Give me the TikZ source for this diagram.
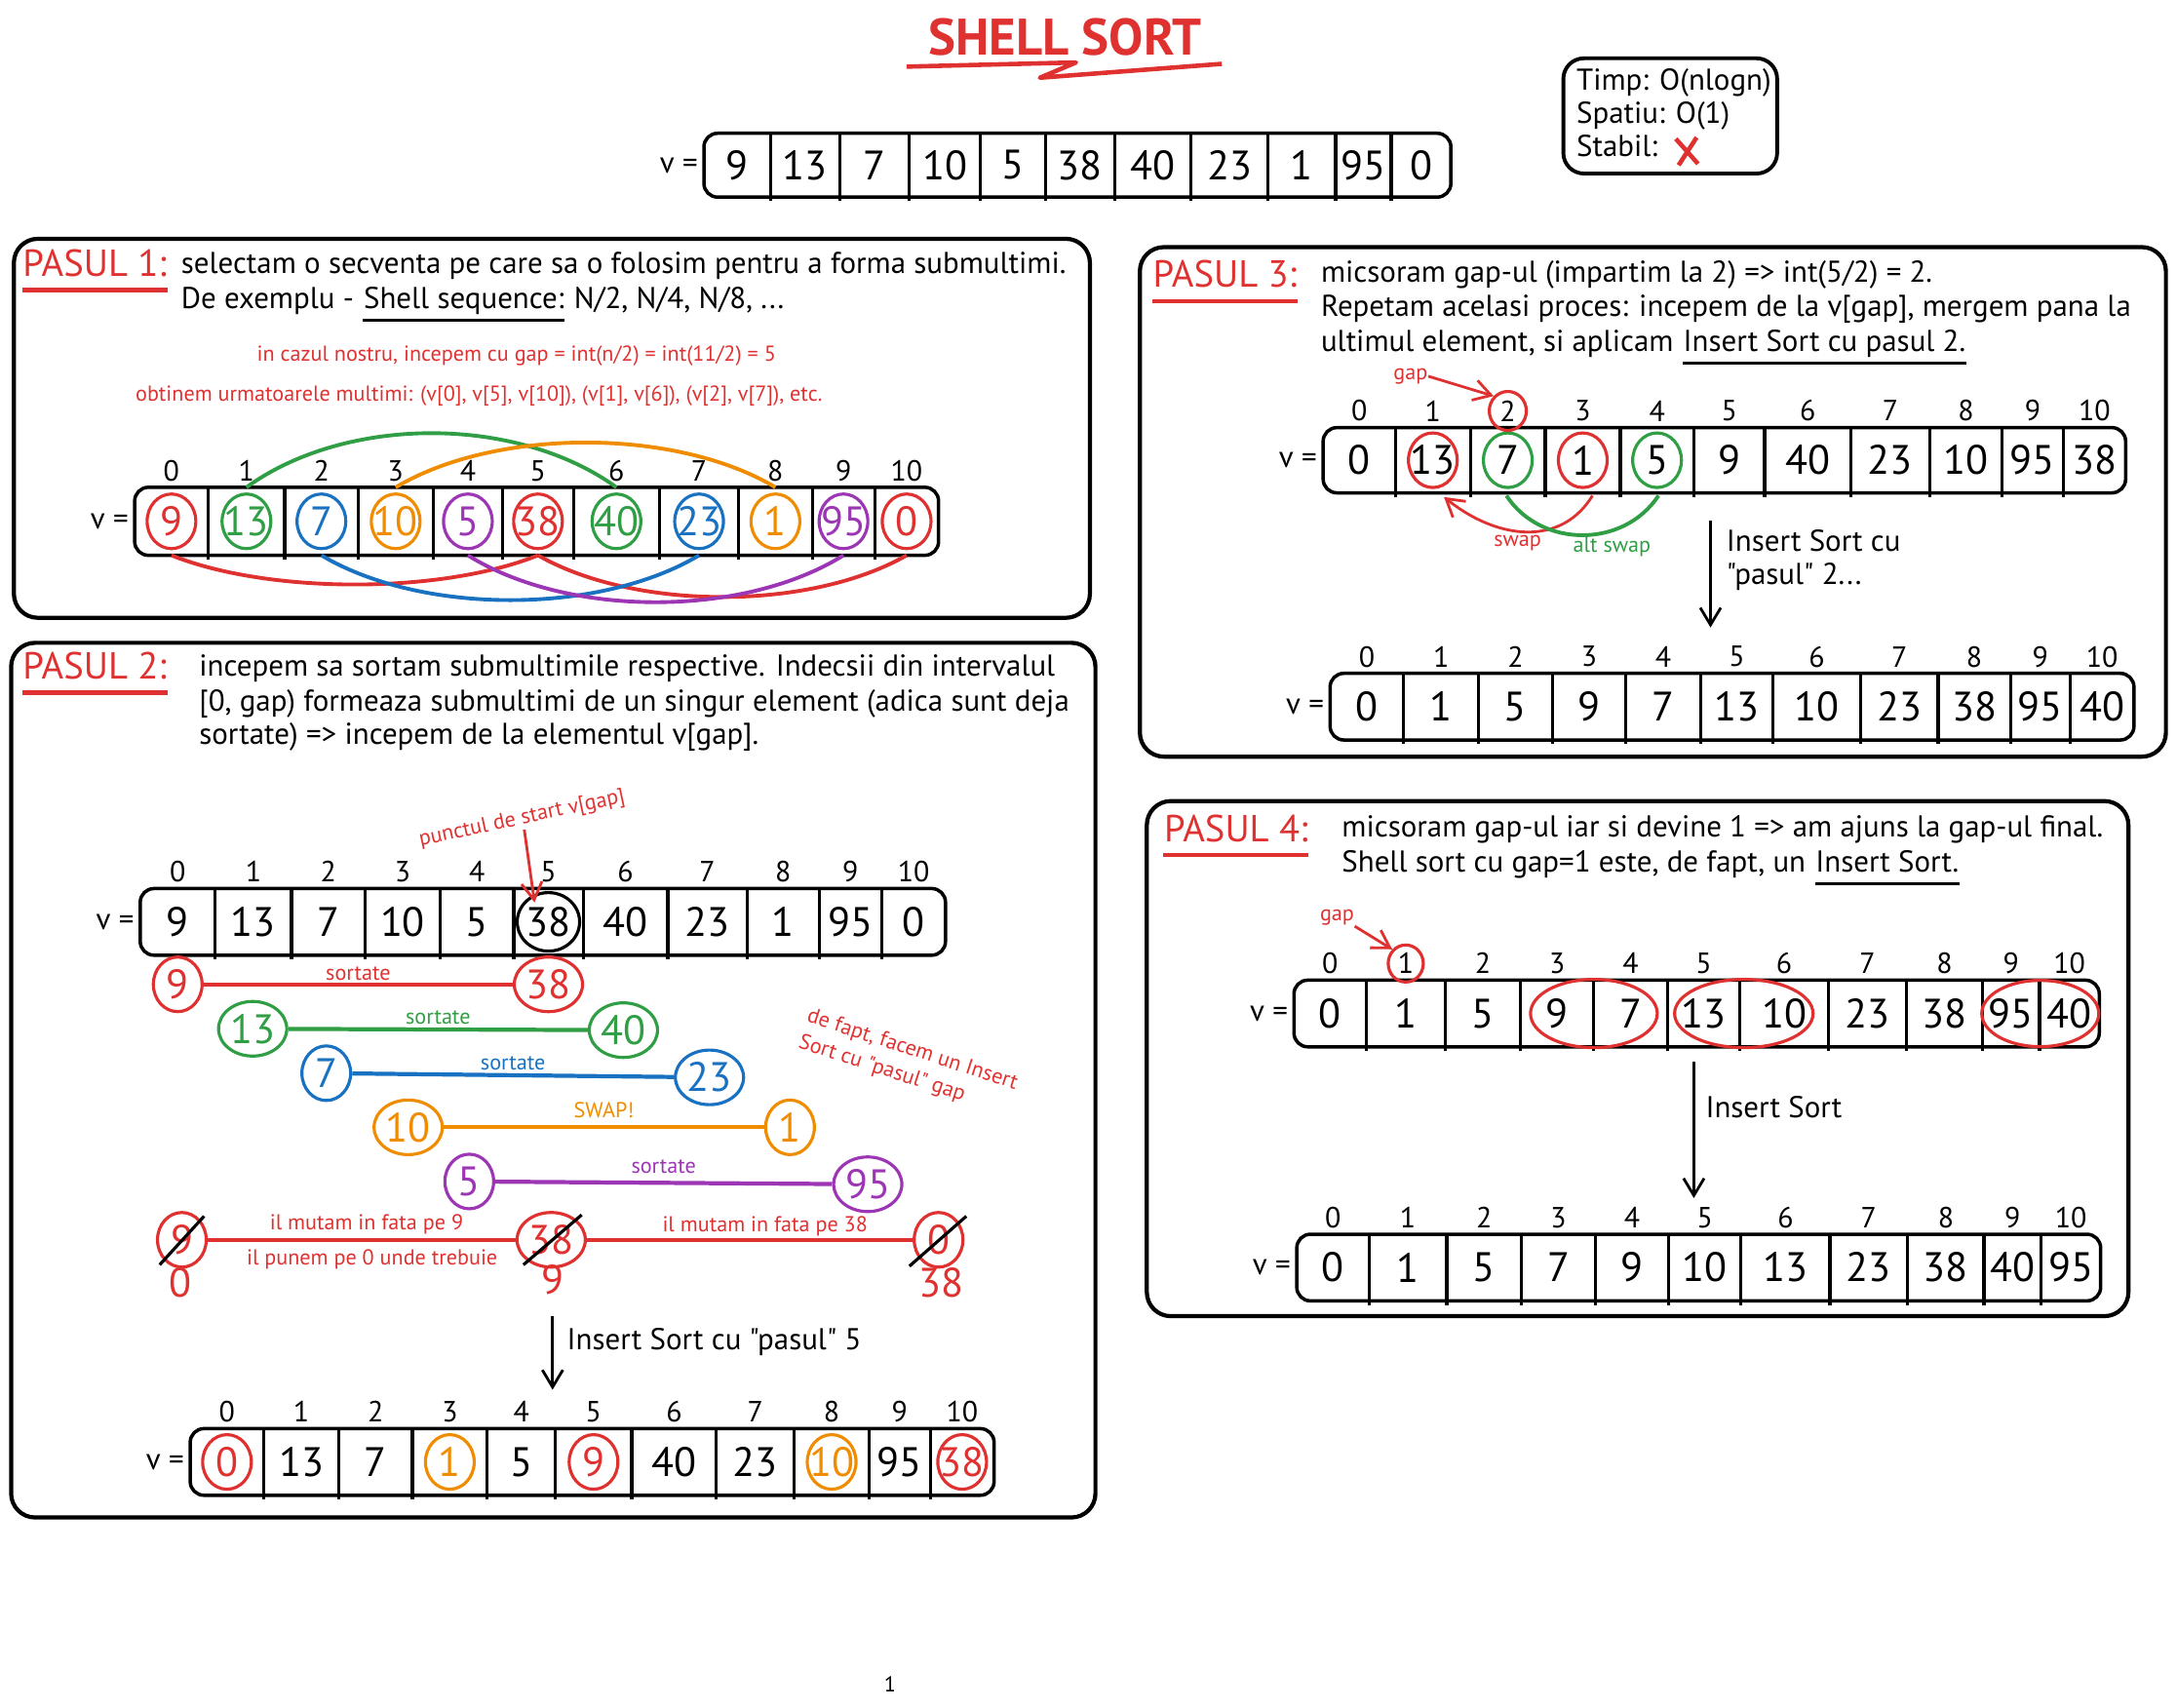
\documentclass[tikz,border=0pt]{standalone}
\usepackage{fontspec}
\setmainfont{PT Sans}[Ligatures=TeXOff]
\usetikzlibrary{shapes.geometric,arrows.meta,calc}
\definecolor{cr}{HTML}{E03131}
\definecolor{cg}{HTML}{2F9E44}
\definecolor{cb}{HTML}{1971C2}
\definecolor{co}{HTML}{F08C00}
\definecolor{cp}{HTML}{9C36B5}
\colorlet{ck}{black}
\newcommand\dq{\symbol{34}}
\newcommand\valfont{\fontsize{12}{13}\selectfont}
\newcommand\txtfont{\fontsize{8.8}{10}\selectfont}
\newcommand\smfont{\fontsize{6.3}{8}\selectfont}
\newcommand\idxfont{\fontsize{8.5}{9}\selectfont}
\newcommand\pasfont{\fontsize{11}{12}\selectfont}
% #1 prefix, #2 top y, #3 bottom y, #4 12 bounds, #5 11 value/colour pairs
\newcommand\vecarr[5]{%
  \def\bnd{#4}%
  \pgfmathsetmacro\xl{{\bnd}[0]}%
  \pgfmathsetmacro\xr{{\bnd}[11]}%
  \pgfmathsetmacro\ym{(#2+#3)/2}%
  \draw[arrbox] (\xl,#2) rectangle (\xr,#3);
  \foreach \kk in {1,...,10}{\pgfmathsetmacro\xd{{\bnd}[\kk]}\draw[divl] (\xd,#2-1) -- (\xd,#3+3);}
  \node[eqtxt, anchor=east] (#1eq) at (\xl-4,\ym) {v =};
  \foreach \vv/\cc [count=\kk from 0] in {#5}{%
    \pgfmathsetmacro\xa{{\bnd}[\kk]}\pgfmathsetmacro\xb{{\bnd}[\kk+1]}%
    \pgfmathsetmacro\xc{(\xa+\xb)/2}%
    \node[val, text=\cc] (#1v\kk) at (\xc,\ym) {\vv};
    \coordinate (#1t\kk) at (\xc,#2);
    \coordinate (#1b\kk) at (\xc,#3);
  }%
}
% #1 prefix, #2 top y, #3 bounds
\newcommand\idxrow[3]{%
  \def\bnd{#3}%
  \foreach \kk in {0,...,10}{%
    \pgfmathsetmacro\xa{{\bnd}[\kk]}\pgfmathsetmacro\xb{{\bnd}[\kk+1]}%
    \node[idx] (#1i\kk) at ({(\xa+\xb)/2},#2-12) {\kk};
  }%
}
\begin{document}
\begin{tikzpicture}[x=0.014241cm,y=-0.014241cm,
  panel/.style={draw, line width=1.2pt, rounded corners=7pt},
  arrbox/.style={draw, line width=1pt, rounded corners=4pt},
  divl/.style={line width=0.9pt},
  val/.style={font=\valfont, inner sep=0pt},
  idx/.style={font=\idxfont, inner sep=0pt},
  eqtxt/.style={font=\txtfont, inner sep=0pt},
  txt/.style={font=\txtfont, inner sep=0pt, anchor=base west},
  sm/.style={font=\smfont, inner sep=0pt},
  pas/.style={font=\pasfont, text=cr, inner sep=0pt, anchor=base west},
  ring/.style={draw=#1, ellipse, line width=0.9pt, minimum width=0.5cm, minimum height=0.56cm, inner sep=0pt},
  cnode/.style={draw=#1, text=#1, ellipse, line width=0.9pt, minimum width=0.5cm, minimum height=0.56cm, inner sep=0.5pt, font=\valfont},
  link/.style={line width=1.2pt},
  arc/.style={line width=1.1pt},
  arr/.style={-{Straight Barb[length=5pt,width=6pt]}, line width=0.8pt},
  uline/.style={line width=0.9pt},
  rline/.style={cr, line width=1.2pt}
]
\useasboundingbox (0,0) rectangle (1568,1230);

% ---------- title ----------
\node[font=\fontsize{15}{16}\selectfont\bfseries, text=cr, inner sep=0pt] (title) at (767,27) {SHELL SORT};
\draw[cr, line width=1.3pt, line join=round] (653,48) -- (775,45) -- (749,56) -- (880,46);

% ---------- top array ----------
\vecarr{a0}{96}{142}{507,555,605,655,706,753,803,858,913,962,1002,1045}{9/ck,13/ck,7/ck,10/ck,5/ck,38/ck,40/ck,23/ck,1/ck,95/ck,0/ck}

% ---------- complexity box ----------
\draw[line width=1.1pt, rounded corners=6pt] (1126,42) rectangle (1280,125);
\node[txt] (cx1) at (1135,65) {Timp: O(nlogn)};
\node[txt] (cx2) at (1135,89) {Spatiu: O(1)};
\node[txt] (cx3) at (1135,113) {Stabil:};
\draw[cr, line width=1.3pt] (1207,100) -- (1223,118) (1222,99) -- (1209,119);

% ---------- PASUL 1 ----------
\draw[panel] (10,172) rectangle (785,445);
\node[pas] (pa1) at (16,199) {PASUL 1:};
\draw[rline] ([yshift=-4pt]pa1.base west) -- ([yshift=-4pt]pa1.base east);
\node[txt] (p1l1) at (130,197) {selectam o secventa pe care sa o folosim pentru a forma submultimi.};
\node[txt] (p1l2a) at (130,222) {De exemplu -};
\node[txt] (p1l2b) at ([xshift=2.5pt]p1l2a.base east) {Shell sequence:};
\node[txt] (p1l2c) at ([xshift=2.5pt]p1l2b.base east) {N/2, N/4, N/8, ...};
\draw[uline] ([yshift=-3.5pt]p1l2b.base west) -- ([yshift=-3.5pt]p1l2b.base east);
\node[sm, text=cr, anchor=base] (p1r1) at (372,260) {in cazul nostru, incepem cu gap = int(n/2) = int(11/2) = 5};
\node[sm, text=cr, anchor=base] (p1r2) at (345,289) {obtinem urmatoarele multimi: (v[0], v[5], v[10]), (v[1], v[6]), (v[2], v[7]), etc.};
\idxrow{p1}{351}{97,150,205,258,312,362,413,475,532,585,630,676}
\vecarr{p1}{351}{400}{97,150,205,258,312,362,413,475,532,585,630,676}{9/cr,13/cg,7/cb,10/co,5/cp,38/cr,40/cg,23/cb,1/co,95/cp,0/cr}
\foreach \kk/\cc in {0/cr,1/cg,2/cb,3/co,4/cp,5/cr,6/cg,7/cb,8/co,9/cp,10/cr}
  \node[ring=\cc] (p1r\kk) at (p1v\kk) {};
\draw[arc, cg] (p1t1) .. controls +(72,-52) and +(-72,-52) .. (p1t6);
\draw[arc, co] (p1t3) .. controls +(72,-43) and +(-72,-43) .. (p1t8);
\draw[arc, cr] (p1b0) .. controls +(70,28) and +(-70,28) .. (p1b5);
\draw[arc, cr] (p1b5) .. controls +(70,40) and +(-70,40) .. (p1b10);
\draw[arc, cb] (p1b2) .. controls +(72,43) and +(-72,43) .. (p1b7);
\draw[arc, cp] (p1b4) .. controls +(72,45) and +(-72,45) .. (p1b9);

% ---------- PASUL 2 ----------
\draw[panel] (8,463) rectangle (789,1093);
\node[pas] (pa2) at (16,489) {PASUL 2:};
\draw[rline] ([yshift=-4pt]pa2.base west) -- ([yshift=-4pt]pa2.base east);
\node[txt] (p2l1) at (143,487) {incepem sa sortam submultimile respective. Indecsii din intervalul};
\node[txt] (p2l2) at (143,512) {[0, gap) formeaza submultimi de un singur element (adica sunt deja};
\node[txt] (p2l3) at (143,536) {sortate) => incepem de la elementul v[gap].};
\node[sm, text=cr, rotate=12] (pstart) at (376,590) {punctul de start v[gap]};
\idxrow{p2a}{640}{101,155,210,263,317,370,420,481,538,590,635,681}
\vecarr{p2a}{640}{688}{101,155,210,263,317,370,420,481,538,590,635,681}{9/ck,13/ck,7/ck,10/ck,5/ck,38/ck,40/ck,23/ck,1/ck,95/ck,0/ck}
\node[ring=black, minimum width=0.64cm, minimum height=0.6cm] (p2ring) at (p2av5) {};
\coordinate (pstip) at (385,650);
\draw[arr, cr] (pstart.south) -- (pstip);

\node[cnode=cr] (s1a) at (128,709) {9};
\node[cnode=cr] (s1b) at (395,709) {38};
\draw[link, cr] (s1a) -- (s1b) node[midway, above=0.5pt, sm, text=cr] {sortate};
\node[cnode=cg] (s2a) at (182,741) {13};
\node[cnode=cg] (s2b) at (449,742) {40};
\draw[link, cg] (s2a) -- (s2b) node[midway, above=1pt, sm, text=cg] {sortate};
\node[cnode=cb] (s3a) at (235,773) {7};
\node[cnode=cb] (s3b) at (511,776) {23};
\draw[link, cb] (s3a) -- (s3b) node[midway, above=1pt, sm, text=cb] {sortate};
\node[cnode=co] (s4a) at (294,812) {10};
\node[cnode=co] (s4b) at (569,812) {1};
\draw[link, co] (s4a) -- (s4b) node[midway, above=2pt, sm, text=co] {SWAP!};
\node[cnode=cp] (s5a) at (338,851) {5};
\node[cnode=cp] (s5b) at (625,853) {95};
\draw[link, cp] (s5a) -- (s5b) node[midway, above=2pt, sm, text=cp] {sortate};
\node[cnode=cr] (s6a) at (131,893) {9};
\node[cnode=cr] (s6b) at (397,893) {38};
\node[cnode=cr] (s6c) at (676,893) {0};
\draw[link, cr] (s6a) -- (s6b);
\draw[link, cr] (s6b) -- (s6c);
\node[sm, text=cr] (m1) at (264,882) {il mutam in fata pe 9};
\node[sm, text=cr] (m2) at (268,907) {il punem pe 0 unde trebuie};
\node[sm, text=cr] (m3) at (551,883) {il mutam in fata pe 38};
\draw[line width=0.9pt] ($(s6a)+(-16,18)$) -- ($(s6a)+(16,-17)$);
\draw[line width=0.9pt] ($(s6b)+(-20,18)$) -- ($(s6b)+(22,-18)$);
\draw[line width=0.9pt] ($(s6c)+(-21,19)$) -- ($(s6c)+(20,-17)$);
\node[val, text=cr] (u1) at (130,924) {0};
\node[val, text=cr] (u2) at (398,922) {9};
\node[val, text=cr] (u3) at (678,924) {38};
\node[sm, text=cr, rotate=-18, align=left] (defapt) at (654,766) {de fapt, facem un Insert\\Sort cu \dq pasul\dq\ gap};
\coordinate (p2from) at (398,948);
\coordinate (p2to) at (398,1001);
\draw[arr] (p2from) -- (p2to);
\node[txt] (p2ins) at (408,972) {Insert Sort cu \dq pasul\dq\ 5};
\idxrow{p2b}{1029}{137,190,244,297,351,400,455,516,572,626,670,716}
\vecarr{p2b}{1029}{1077}{137,190,244,297,351,400,455,516,572,626,670,716}{0/cr,13/ck,7/ck,1/co,5/ck,9/cr,40/ck,23/ck,10/co,95/ck,38/cr}
\foreach \kk/\cc in {0/cr,3/co,5/cr,8/co,10/cr}
  \node[ring=\cc] (p2br\kk) at (p2bv\kk) {};

% ---------- PASUL 3 ----------
\draw[panel] (821,178) rectangle (1560,545);
\node[pas] (pa3) at (830,207) {PASUL 3:};
\draw[rline] ([yshift=-4pt]pa3.base west) -- ([yshift=-4pt]pa3.base east);
\node[txt] (p3l1) at (951,203) {micsoram gap-ul (impartim la 2) => int(5/2) = 2.};
\node[txt] (p3l2) at (951,228) {Repetam acelasi proces: incepem de la v[gap], mergem pana la};
\node[txt] (p3l3a) at (951,253) {ultimul element, si aplicam};
\node[txt] (p3l3b) at ([xshift=2.5pt]p3l3a.base east) {Insert Sort cu pasul 2.};
\draw[uline] ([yshift=-3.5pt]p3l3b.base west) -- ([yshift=-3.5pt]p3l3b.base east);
\idxrow{p3a}{308}{953,1005,1059,1113,1167,1220,1271,1333,1390,1442,1486,1531}
\vecarr{p3a}{308}{355}{953,1005,1059,1113,1167,1220,1271,1333,1390,1442,1486,1531}{0/ck,13/ck,7/ck,1/ck,5/ck,9/ck,40/ck,23/ck,10/ck,95/ck,38/ck}
\foreach \kk/\cc in {1/cr,2/cg,3/cr,4/cg}
  \node[ring=\cc] (p3r\kk) at (p3av\kk) {};
\node[ring=cr, minimum width=0.38cm, minimum height=0.4cm] (p3ring) at (p3ai2) {};
\node[sm, text=cr] (gap3) at (1016,271) {gap};
\draw[arr, cr] (gap3.east) -- (p3ring.north west);
\draw[arr, cr] ($(p3ab3)+(7,2)$) .. controls +(-22,36) and +(40,32) .. ($(p3ab1)+(8,3)$);
\draw[arc, cg] ($(p3ab2)+(-1,2)$) .. controls +(25,38) and +(-25,38) .. ($(p3ab4)+(1,2)$);
\node[sm, text=cr] (swp) at (1093,391) {swap};
\node[sm, text=cg] (aswp) at (1161,394) {alt swap};
\coordinate (p3from) at (1232,375);
\coordinate (p3to) at (1232,452);
\draw[arr] (p3from) -- (p3to);
\node[txt] (p3ins1) at (1243,397) {Insert Sort cu};
\node[txt] (p3ins2) at (1243,421) {\dq pasul\dq\ 2...};
\idxrow{p3b}{485}{958,1011,1065,1118,1171,1225,1277,1340,1396,1448,1491,1537}
\vecarr{p3b}{485}{533}{958,1011,1065,1118,1171,1225,1277,1340,1396,1448,1491,1537}{0/ck,1/ck,5/ck,9/ck,7/ck,13/ck,10/ck,23/ck,38/ck,95/ck,40/ck}

% ---------- PASUL 4 ----------
\draw[panel] (826,577) rectangle (1533,948);
\node[pas] (pa4) at (838,606) {PASUL 4:};
\draw[rline] ([yshift=-4pt]pa4.base west) -- ([yshift=-4pt]pa4.base east);
\node[txt] (p4l1) at (966,603) {micsoram gap-ul iar si devine 1 => am ajuns la gap-ul final.};
\node[txt] (p4l2a) at (966,628) {Shell sort cu gap=1 este, de fapt, un};
\node[txt] (p4l2b) at ([xshift=2.5pt]p4l2a.base east) {Insert Sort.};
\draw[uline] ([yshift=-3.5pt]p4l2b.base west) -- ([yshift=-3.5pt]p4l2b.base east);
\idxrow{p4a}{706}{932,984,1041,1095,1148,1201,1253,1317,1373,1428,1469,1512}
\vecarr{p4a}{706}{754}{932,984,1041,1095,1148,1201,1253,1317,1373,1428,1469,1512}{0/ck,1/ck,5/ck,9/ck,7/ck,13/ck,10/ck,23/ck,38/ck,95/ck,40/ck}
\node[ring=cr, minimum width=0.36cm, minimum height=0.38cm] (p4ring) at (p4ai1) {};
\node[sm, text=cr] (gap4) at (963,661) {gap};
\draw[arr, cr] (gap4.south east) -- (p4ring.north west);
\node[ring=cr, minimum width=1.3cm, minimum height=0.7cm] (e1) at ($(p4av3)!0.5!(p4av4)$) {};
\node[ring=cr, minimum width=1.42cm, minimum height=0.7cm] (e2) at ($(p4av5)!0.5!(p4av6)$) {};
\node[ring=cr, minimum width=1.2cm, minimum height=0.68cm] (e3) at ($(p4av9)!0.5!(p4av10)$) {};
\coordinate (p4from) at (1220,765);
\coordinate (p4to) at (1220,863);
\draw[arr] (p4from) -- (p4to);
\node[txt] (p4ins) at (1228,805) {Insert Sort};
\idxrow{p4b}{889}{934,986,1042,1096,1149,1202,1254,1318,1374,1429,1470,1513}
\vecarr{p4b}{889}{937}{934,986,1042,1096,1149,1202,1254,1318,1374,1429,1470,1513}{0/ck,1/ck,5/ck,7/ck,9/ck,10/ck,13/ck,23/ck,38/ck,40/ck,95/ck}

% page number
\node[sm] (pgno) at (641,1213) {1};
\end{tikzpicture}
\end{document}
